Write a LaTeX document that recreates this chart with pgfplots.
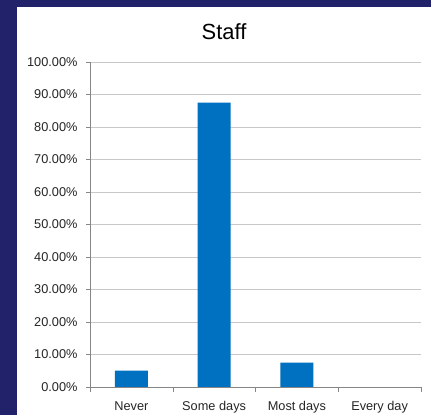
\documentclass[border=0pt]{standalone}
\usepackage{fontspec}
\setmainfont{Liberation Sans}
\usepackage{pgfplots}
\pgfplotsset{compat=1.18}
\definecolor{navybg}{HTML}{22226A}
\definecolor{barblue}{HTML}{0070C0}
\definecolor{axisgray}{HTML}{868686}
\definecolor{gridgray}{HTML}{C8C8C8}
\begin{document}
\begin{tikzpicture}
\fill[navybg] (0,0) rectangle (431bp,415bp);
\fill[white] (17bp,0) rectangle (431bp,408bp);
\node[font=\fontsize{22}{26}\selectfont] at (224bp,383bp) {Staff};
\begin{axis}[
    at={(90bp,28bp)}, anchor=south west,
    scale only axis,
    width=331bp, height=325bp,
    xmin=-0.5, xmax=3.5,
    ymin=0, ymax=100,
    ytick={0,10,...,100},
    xtick={0,1,2,3},
    xticklabels={Never, Some days, Most days, Every day},
    minor xtick={-0.5,0.5,1.5,2.5,3.5},
    major x tick style={draw=none},
    minor x tick style={axisgray},
    y tick style={axisgray},
    tick align=outside,
    major tick length=4bp,
    minor tick length=5bp,
    axis x line*=bottom,
    axis y line*=left,
    axis line style={axisgray, -},
    ymajorgrids,
    grid style={gridgray, line width=0.8pt},
    tick label style={font=\fontsize{12.8}{15}\selectfont, text=black!85},
    /pgf/number format/assume math mode=true,
    yticklabel={\pgfmathprintnumber[fixed,fixed zerofill,precision=2]{\tick}\%},
    xticklabel style={yshift=-7bp},
    yticklabel style={xshift=-5bp},
  ]
\addplot[ybar, bar width=33bp, fill=barblue, draw=none] coordinates {
  (0,5.0) (1,87.5) (2,7.5) (3,0)};
\end{axis}
\pgfresetboundingbox
\useasboundingbox (0,0) rectangle (431bp,415bp);
\end{tikzpicture}
\end{document}
